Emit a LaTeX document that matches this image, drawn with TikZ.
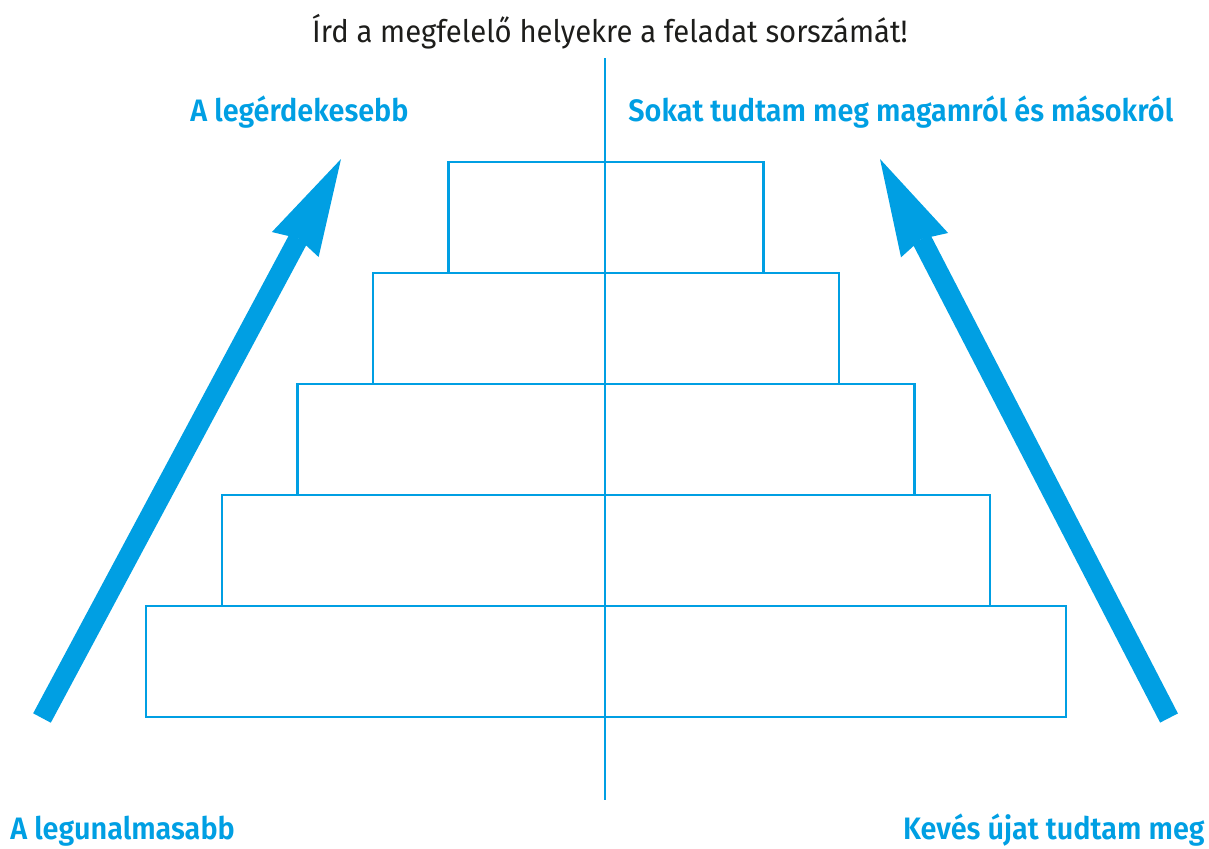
\documentclass[tikz,border=0pt]{standalone}
\usepackage{fontspec}
\setmainfont{Fira Sans}
\newfontfamily\headfont{Fira Sans}[FakeStretch=0.944]
\newfontfamily\capfont{Fira Sans SemiBold}[FakeStretch=0.93]
\usetikzlibrary{arrows.meta, positioning}
\definecolor{tierblue}{HTML}{009FE3}
\definecolor{inkgrey}{HTML}{1D1D1B}
\tikzstyle{tier} = [rectangle, draw=tierblue, line width=1.2pt, minimum height=55.5pt, inner sep=0pt, outer sep=0pt]
\tikzstyle{heading} = [text=inkgrey, font=\headfont\fontsize{15.5}{18}\selectfont, inner sep=0pt]
\tikzstyle{caption} = [text=tierblue, font=\capfont\fontsize{15.5}{18}\selectfont, inner sep=0pt]
\tikzstyle{axis} = [draw=tierblue, line width=1pt]
\tikzstyle{bigarrow} = [draw=tierblue, line width=10pt, -{Stealth[length=48.5pt, width=26.5pt, inset=3.5pt, line width=0pt]}]

\begin{document}
\begin{tikzpicture}[x=0.5pt, y=-0.5pt, node distance=0pt]
\useasboundingbox (0,0) rectangle (1209,848);

\node (title) [heading, anchor=base] at (610,42) {Írd a megfelelő helyekre a feladat sorszámát!};

% pyramid, bottom up
\node (lvl5) [tier, minimum width=460pt, anchor=south] at (606,717) {};
\node (lvl4) [tier, minimum width=384pt, above=of lvl5] {};
\node (lvl3) [tier, minimum width=308.5pt, above=of lvl4] {};
\node (lvl2) [tier, minimum width=233pt, above=of lvl3] {};
\node (lvl1) [tier, minimum width=157.5pt, above=of lvl2] {};

\coordinate (axtop) at (605,58);
\coordinate (axbot) at (605,800);
\draw [axis] (axtop) -- (axbot);

% arrows
\coordinate (lefttail) at (42,718);
\coordinate (lefttip) at (341,159);
\coordinate (righttail) at (1169,718);
\coordinate (righttip) at (880,159);
\draw [bigarrow] (lefttail) -- (lefttip);
\draw [bigarrow] (righttail) -- (righttip);

\node (topleft) [caption, anchor=base west] at (190,121) {A legérdekesebb};
\node (topright) [caption, anchor=base west] at (628,121) {Sokat tudtam meg magamról és másokról};
\node (botleft) [caption, anchor=base west] at (10,839) {A legunalmasabb};
\node (botright) [caption, anchor=base east] at (1205,839) {Kevés újat tudtam meg};

\end{tikzpicture}
\end{document}
